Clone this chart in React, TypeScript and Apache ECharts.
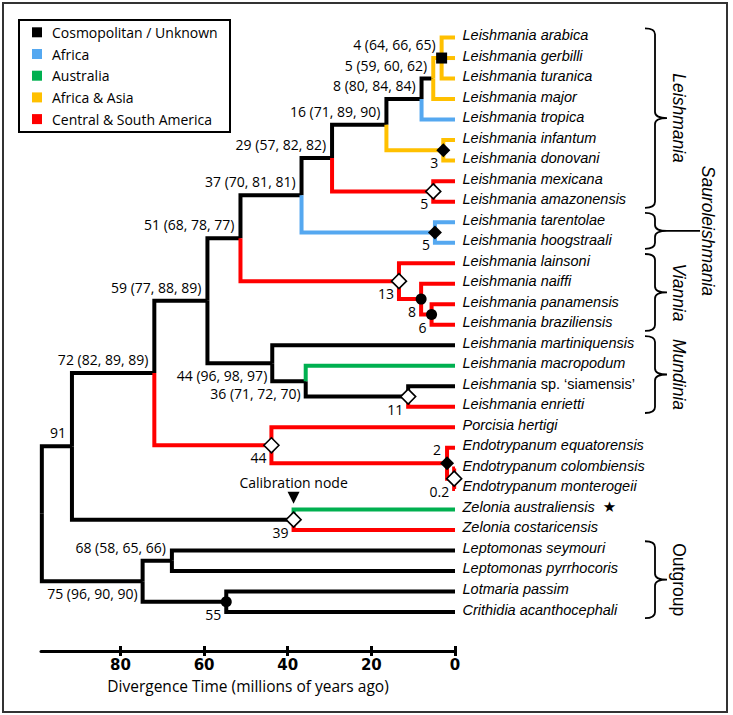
import React, { useEffect, useRef } from "react";
import * as echarts from "echarts";

// ---------- DATA ----------
const regionNames = ["Cosmopolitan / Unknown", "Africa", "Australia", "Africa & Asia", "Central & South America"];
const regionColors = ["#000000", "#55A8F0", "#00B050", "#FFC000", "#FF0000"];

const leafNames = [
  "Leishmania arabica", "Leishmania gerbilli", "Leishmania turanica", "Leishmania major", "Leishmania tropica",
  "Leishmania infantum", "Leishmania donovani", "Leishmania mexicana", "Leishmania amazonensis",
  "Leishmania tarentolae", "Leishmania hoogstraali", "Leishmania lainsoni", "Leishmania naiffi",
  "Leishmania panamensis", "Leishmania braziliensis", "Leishmania martiniquensis", "Leishmania macropodum",
  "Leishmania sp. ‘siamensis’", "Leishmania enrietti", "Porcisia hertigi", "Endotrypanum equatorensis",
  "Endotrypanum colombiensis", "Endotrypanum monterogeii", "Zelonia australiensis", "Zelonia costaricensis",
  "Leptomonas seymouri", "Leptomonas pyrrhocoris", "Lotmaria passim", "Crithidia acanthocephali",
];
// region index of each leaf branch
const leafRegions = [3, 3, 3, 3, 1, 3, 3, 4, 4, 1, 1, 4, 4, 4, 4, 0, 2, 0, 4, 4, 4, 4, 4, 2, 4, 0, 0, 0, 0];
const starredLeaf = "Zelonia australiensis";

// internal nodes, listed children-before-parents
const nodeIds = ["ara", "n5", "n8", "inf", "n16", "mex", "n29", "tar", "n37", "pb", "na", "vi", "n51", "se", "n36", "n44m", "n59", "cm", "en", "n44p", "n72", "ze", "n91", "n68", "n55", "n75", "root"];
const nodeChildren = [
  ["L0", "L1", "L2"], ["ara", "L3"], ["n5", "L4"], ["L5", "L6"], ["n8", "inf"], ["L7", "L8"], ["n16", "mex"],
  ["L9", "L10"], ["n29", "tar"], ["L13", "L14"], ["L12", "pb"], ["L11", "na"], ["n37", "vi"], ["L17", "L18"],
  ["L16", "se"], ["L15", "n36"], ["n51", "n44m"], ["L21", "L22"], ["L20", "cm"], ["L19", "en"], ["n59", "n44p"],
  ["L23", "L24"], ["n72", "ze"], ["L25", "L26"], ["L27", "L28"], ["n68", "n55"], ["n91", "n75"],
];
// node ages (millions of years ago) as drawn
const nodeAges = [3.2, 5.2, 8.0, 2.8, 16.4, 5.2, 29.4, 4.8, 36.7, 5.6, 8.1, 13.4, 51.3, 11.2, 35.7, 43.7, 59.2, 0.2, 1.9, 43.9, 71.9, 38.6, 91.6, 67.7, 54.7, 74.7, 98.8];
// printed node ages
const nodeAgeText = ["4", "5", "8", "3", "16", "5", "29", "5", "37", "6", "8", "13", "51", "11", "36", "44", "59", "0.2", "2", "44", "72", "39", "91", "68", "55", "75", ""];
const nodeSupport = [
  [64, 66, 65], [59, 60, 62], [80, 84, 84], [], [71, 89, 90], [], [57, 82, 82], [], [70, 81, 81], [], [], [],
  [68, 78, 77], [], [71, 72, 70], [96, 98, 97], [77, 88, 89], [], [], [], [82, 89, 89], [], [], [58, 65, 66], [], [96, 90, 90], [],
];
// region index of the branch leading to each node
const nodeRegions = [3, 0, 0, 3, 0, 4, 0, 1, 0, 4, 4, 4, 0, 0, 0, 0, 0, 4, 4, 4, 0, 0, 0, 0, 0, 0, 0];
// node marker: sq = black square, bd = black diamond, wd = white diamond, bc = black circle
const nodeMarkers = ["sq", "", "", "bd", "", "wd", "", "bd", "", "bc", "bc", "wd", "", "wd", "", "", "", "wd", "bd", "wd", "", "wd", "", "", "bc", "", ""];
const calibrationNode = "ze";

const cladeNames = ["Leishmania", "Sauroleishmania", "Viannia", "Mundinia", "Outgroup"];
const cladeFirstLeaf = [0, 9, 11, 15, 25];
const cladeLastLeaf = [8, 10, 14, 18, 28];
const cladeItalic = [true, true, true, true, false];

const tickValues = [0, 20, 40, 60, 80];
const axisMaxAge = 99;
const axisTitle = "Divergence Time (millions of years ago)";

// ---------- STYLE ----------
const labelAbove = ["ara", "n5", "n8", "n16", "n29", "n37", "n51", "n59", "n72", "n91", "n68", "en"];
const numFont = "Open Sans";
const leafFont = "Liberation Sans";
const legendBox = { x: 19, y: 20, w: 211, h: 112, rowY0: 32.3, rowStep: 21.7 };

export default function App() {
  const ref = useRef<HTMLDivElement>(null);

  useEffect(() => {
    const chart = echarts.init(ref.current!, null, { renderer: "svg" });

    // layout
    const yOf: Record<string, number> = {};
    const ageOf: Record<string, number> = {};
    const regionOf: Record<string, number> = {};
    leafNames.forEach((_, i) => {
      yOf["L" + i] = i;
      ageOf["L" + i] = 0;
      regionOf["L" + i] = leafRegions[i];
    });
    nodeIds.forEach((id, i) => {
      const ys = nodeChildren[i].map((c) => yOf[c]);
      yOf[id] = (Math.min(...ys) + Math.max(...ys)) / 2;
      ageOf[id] = nodeAges[i];
      regionOf[id] = nodeRegions[i];
    });

    const edgeData: any[][] = regionNames.map(() => []);
    nodeIds.forEach((id, i) => {
      nodeChildren[i].forEach((c) => {
        edgeData[regionOf[c]].push({
          coords: [
            [nodeAges[i], yOf[id]],
            [nodeAges[i], yOf[c]],
            [ageOf[c], yOf[c]],
          ],
        });
      });
    });

    const lineSeries = regionNames.map((name, r) => ({
      type: "lines",
      name,
      coordinateSystem: "cartesian2d",
      polyline: true,
      clip: false,
      silent: true,
      z: 2,
      data: edgeData[r],
      lineStyle: { color: regionColors[r], width: 4, opacity: 1, cap: "butt", join: "miter" },
    }));

    const markerData: any[] = [];
    nodeIds.forEach((id, i) => {
      const m = nodeMarkers[i];
      if (!m) return;
      const base: any = { value: [nodeAges[i], yOf[id]] };
      if (m === "sq") Object.assign(base, { symbol: "rect", symbolSize: 11, itemStyle: { color: "#000", opacity: 1 } });
      if (m === "bd") Object.assign(base, { symbol: "diamond", symbolSize: 14, itemStyle: { color: "#000", opacity: 1 } });
      if (m === "wd") Object.assign(base, { symbol: "diamond", symbolSize: 15, itemStyle: { color: "#fff", borderColor: "#000", borderWidth: 1.6, opacity: 1 } });
      if (m === "bc") Object.assign(base, { symbol: "circle", symbolSize: 11, itemStyle: { color: "#000", opacity: 1 } });
      markerData.push(base);
    });

    const nodeLabelData: any[] = [];
    nodeIds.forEach((id, i) => {
      if (!nodeAgeText[i]) return;
      const sup = nodeSupport[i];
      const txt = nodeAgeText[i] + (sup.length ? ` (${sup.join(", ")})` : "");
      const above = labelAbove.includes(id);
      nodeLabelData.push({
        value: [nodeAges[i], yOf[id]],
        label: {
          show: true,
          position: "left",
          distance: above ? 5.5 : 4.5,
          offset: [0, above ? -13.5 : 12.5],
          formatter: txt,
        },
      });
    });

    const leafData = leafNames.map((_, i) => [0, i]);

    const braceSeries = {
      type: "custom",
      coordinateSystem: "cartesian2d",
      silent: true,
      clip: false,
      data: cladeNames.map((_, i) => [cladeFirstLeaf[i], cladeLastLeaf[i], i]),
      renderItem: (params: any, api: any) => {
        const i = api.value(2) as number;
        const top = api.coord([0, (api.value(0) as number) - 0.45]);
        const bot = api.coord([0, (api.value(1) as number) + 0.3]);
        const x0 = top[0] + 190;
        const T = top[1];
        const B = bot[1];
        const M = (T + B) / 2;
        const xv = x0 + 10;
        const xt = x0 + 22;
        const r = Math.min(6, (M - T) / 3);
        const d = `M${x0},${T} Q${xv},${T} ${xv},${T + r} L${xv},${M - r} Q${xv},${M} ${xt},${M} Q${xv},${M} ${xv},${M + r} L${xv},${B - r} Q${xv},${B} ${x0},${B}`;
        const children: any[] = [
          { type: "path", shape: { pathData: d }, style: { fill: "none", stroke: "#000", lineWidth: 1.8 } },
        ];
        let lx = xt + 12;
        if (cladeNames[i] === "Sauroleishmania") {
          children.push({ type: "line", shape: { x1: xt, y1: M, x2: xt + 33, y2: M }, style: { stroke: "#000", lineWidth: 1.8 } });
          lx = xt + 41;
        }
        children.push({
          type: "text",
          x: lx,
          y: M,
          rotation: -Math.PI / 2,
          style: {
            text: cladeNames[i],
            font: `${cladeItalic[i] ? "italic " : ""}17.5px "${leafFont}"`,
            fill: "#000",
            align: "center",
            verticalAlign: "middle",
          },
        });
        return { type: "group", children };
      },
    };

    const legendGraphics: any[] = [
      {
        type: "rect",
        shape: { x: legendBox.x, y: legendBox.y, width: legendBox.w, height: legendBox.h },
        style: { fill: "#fff", stroke: "#000", lineWidth: 2 },
        z: 10,
      },
    ];
    regionNames.forEach((name, r) => {
      const cy = legendBox.rowY0 + r * legendBox.rowStep;
      legendGraphics.push({
        type: "rect",
        shape: { x: legendBox.x + 13, y: cy - 5, width: 10, height: 10 },
        style: { fill: regionColors[r] },
        z: 11,
      });
      legendGraphics.push({
        type: "text",
        x: legendBox.x + 33,
        y: cy,
        style: { text: name, font: `14px "${numFont}"`, fill: "#000", align: "left", verticalAlign: "middle" },
        z: 11,
      });
    });

    const option: any = {
      animation: false,
      backgroundColor: "#fff",
      grid: { left: 41, right: 278, top: 17, bottom: 64, containLabel: false, outerBoundsMode: "none" },
      xAxis: [
        {
          type: "value",
          inverse: true,
          min: 0,
          max: axisMaxAge,
          position: "bottom",
          name: axisTitle,
          nameLocation: "middle",
          nameGap: 27,
          nameTextStyle: { fontFamily: numFont, fontSize: 15.5, color: "#000" },
          axisLine: { show: true, onZero: false, lineStyle: { color: "#000", width: 3 } },
          axisTick: { show: true, customValues: tickValues, length: 5, lineStyle: { color: "#000", width: 3 } },
          axisLabel: { show: true, customValues: tickValues, margin: 6, color: "#000", fontFamily: "DejaVu Sans", fontWeight: "bold", fontSize: 15 },
          splitLine: { show: false },
        },
        {
          type: "value",
          inverse: true,
          min: 0,
          max: axisMaxAge,
          position: "bottom",
          axisLine: { show: false, onZero: false },
          axisTick: { show: true, inside: true, customValues: tickValues, length: 5, lineStyle: { color: "#000", width: 3 } },
          axisLabel: { show: false },
          splitLine: { show: false },
        },
      ],
      yAxis: { type: "value", inverse: true, min: -1, max: 29.9, show: false },
      graphic: [
        {
          type: "rect",
          shape: { x: 3, y: 3, width: 724, height: 709 },
          style: { fill: "none", stroke: "#333", lineWidth: 2 },
          silent: true,
        },
        ...legendGraphics,
      ],
      series: [
        ...lineSeries,
        {
          type: "scatter",
          name: "markers",
          clip: false,
          silent: true,
          z: 5,
          itemStyle: { opacity: 1 },
          data: markerData,
        },
        {
          type: "scatter",
          name: "calibration",
          clip: false,
          silent: true,
          z: 5,
          symbol: "path://M0,0L10,0L5,9Z",
          symbolSize: 12,
          symbolOffset: [0, -22],
          itemStyle: { color: "#000", opacity: 1 },
          label: {
            show: true,
            position: "top",
            distance: 2,
            formatter: "Calibration node",
            fontFamily: numFont,
            fontSize: 14,
            color: "#000",
            opacity: 1,
          },
          data: [[ageOf[calibrationNode], yOf[calibrationNode]]],
        },
        {
          type: "scatter",
          name: "nodeLabels",
          clip: false,
          silent: true,
          z: 6,
          symbolSize: 1,
          itemStyle: { color: "rgba(0,0,0,0)", opacity: 1 },
          label: { fontFamily: numFont, fontSize: 14, color: "#000", opacity: 1 },
          data: nodeLabelData,
        },
        {
          type: "scatter",
          name: "leafLabels",
          clip: false,
          silent: true,
          z: 6,
          symbolSize: 1,
          itemStyle: { color: "rgba(0,0,0,0)", opacity: 1 },
          label: {
            show: true,
            position: "right",
            distance: 7,
            offset: [0, -2.5],
            color: "#000",
            opacity: 1,
            fontFamily: leafFont,
            fontSize: 14.5,
            formatter: (p: any) => {
              const name = leafNames[p.dataIndex];
              const k = name.indexOf(" sp. ");
              let s = k >= 0 ? `{it|${name.slice(0, k)}} {rm|${name.slice(k + 1)}}` : `{it|${name}}`;
              if (name === starredLeaf) s += "  {st|★}";
              return s;
            },
            rich: {
              it: { fontStyle: "italic", fontFamily: leafFont, fontSize: 14.5, color: "#000" },
              rm: { fontStyle: "normal", fontFamily: leafFont, fontSize: 14.5, color: "#000" },
              st: { fontFamily: "DejaVu Sans", fontSize: 15, color: "#000" },
            },
          },
          data: leafData,
        },
        braceSeries,
      ],
    };

    chart.setOption(option);
    return () => chart.dispose();
  }, []);

  return (
    <div
      ref={ref}
      style={{ position: "absolute", left: 0, top: 0, width: 733, height: 715, background: "#fff" }}
    />
  );
}
